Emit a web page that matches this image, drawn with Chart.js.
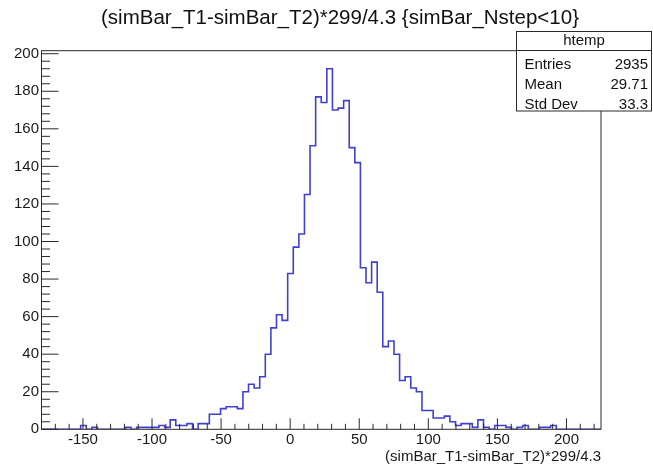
<!DOCTYPE html>
<html>
<head>
<meta charset="utf-8">
<script src="https://cdn.jsdelivr.net/npm/chart.js@4.4.0/dist/chart.umd.min.js"></script>
<style>
  html, body { margin: 0; padding: 0; background: #fff; }
</style>
</head>
<body>
<canvas id="htemp" width="653" height="464"></canvas>
<script>
// Histograma htemp: diferencia de tiempos con corte en Nstep
const tituloHist = "(simBar_T1-simBar_T2)*299/4.3 {simBar_Nstep<10}";
const tituloEjeX = "(simBar_T1-simBar_T2)*299/4.3";

// rango y numero de bins (100 bins)
const xMin = -180;
const xMax = 225;

const cuentas = [
  0, 0, 0, 0, 0, 0, 0, 2, 0, 1,
  0, 0, 0, 0, 0, 1, 0, 1, 1, 1,
  1, 2, 1, 5, 2, 2, 3, 0, 3, 3,
  8, 8, 11, 12, 12, 11, 20, 24, 22, 28,
  40, 54, 61, 58, 83, 97, 104, 125, 151, 177,
  174, 192, 170, 171, 175, 150, 142, 86, 78, 89,
  73, 44, 47, 40, 26, 28, 22, 20, 10, 10,
  6, 6, 7, 4, 2, 3, 3, 1, 5, 1,
  0, 2, 2, 1, 0, 1, 2, 0, 0, 1,
  1, 2, 0, 0, 0, 0, 0, 0, 0, 0,
];

const ticksX = [-150, -100, -50, 0, 50, 100, 150, 200];
const ticksY = [0, 20, 40, 60, 80, 100, 120, 140, 160, 180, 200];

const estadisticas = [
  ["Entries", "2935"],
  ["Mean", "29.71"],
  ["Std Dev", "33.3"],
];

const fuente = "'Liberation Sans', Arial, sans-serif";
const anchoBin = (xMax - xMin) / cuentas.length;

// puntos del escalon: borde izquierdo de cada bin
const puntos = [{ x: xMin, y: 0 }];
cuentas.forEach((c, i) => puntos.push({ x: xMin + i * anchoBin, y: c }));
puntos.push({ x: xMax, y: cuentas[cuentas.length - 1] });
puntos.push({ x: xMax, y: 0 });

/* marco, marcas hacia adentro, titulo y caja de estadisticas */
const estiloRoot = {
  id: "estiloRoot",
  afterDatasetsDraw(chart) {
    const { ctx, chartArea: a } = chart;
    const sx = chart.scales.x;
    const sy = chart.scales.y;
    ctx.save();
    ctx.strokeStyle = "#2a2a2a";
    ctx.lineWidth = 1;
    ctx.strokeRect(a.left, a.top, a.right - a.left, a.bottom - a.top);
    ctx.beginPath();
    for (let v = Math.ceil(xMin / 10) * 10; v < xMax; v += 10) {
      if (v <= xMin) continue;
      const px = sx.getPixelForValue(v);
      const largo = v % 50 === 0 ? 11 : 5.5;
      ctx.moveTo(px, a.bottom);
      ctx.lineTo(px, a.bottom - largo);
    }
    for (let v = 0; v <= sy.max; v += 4) {
      const py = sy.getPixelForValue(v);
      const largo = v % 20 === 0 ? 17 : 8.5;
      ctx.moveTo(a.left, py);
      ctx.lineTo(a.left + largo, py);
    }
    ctx.stroke();
    ctx.restore();
  },
  afterDraw(chart) {
    const { ctx } = chart;
    ctx.save();
    ctx.fillStyle = "#111";
    ctx.font = `20.5px ${fuente}`;
    ctx.textAlign = "center";
    ctx.textBaseline = "middle";
    ctx.fillText(tituloHist, 340, 18);

    // caja de estadisticas
    const bx = 516.5, by = 31.5, bw = 135, bh = 79.5;
    ctx.fillStyle = "#fff";
    ctx.fillRect(bx, by, bw, bh);
    ctx.strokeStyle = "#2a2a2a";
    ctx.lineWidth = 1;
    ctx.strokeRect(bx, by, bw, bh);
    ctx.beginPath();
    ctx.moveTo(bx, 50.5);
    ctx.lineTo(bx + bw, 50.5);
    ctx.stroke();

    ctx.fillStyle = "#111";
    ctx.font = `15px ${fuente}`;
    ctx.fillText("htemp", bx + bw / 2, 41);
    estadisticas.forEach(([nombre, valor], i) => {
      const y = 64.5 + i * 20;
      ctx.textAlign = "left";
      ctx.fillText(nombre, bx + 8, y);
      ctx.textAlign = "right";
      ctx.fillText(valor, bx + bw - 3.5, y);
    });
    ctx.restore();
  },
};

new Chart(document.getElementById("htemp"), {
  type: "line",
  data: {
    datasets: [
      {
        data: puntos,
        stepped: "before",
        borderColor: "#4040d0",
        borderWidth: 1.6,
        pointRadius: 0,
        fill: false,
      },
    ],
  },
  plugins: [estiloRoot],
  options: {
    responsive: false,
    animation: false,
    devicePixelRatio: 1,
    layout: { padding: { top: 50.7, right: 52, left: 0, bottom: 0 } },
    plugins: {
      legend: { display: false },
      tooltip: { enabled: false },
    },
    scales: {
      x: {
        type: "linear",
        min: xMin,
        max: xMax,
        afterBuildTicks: (s) => {
          s.ticks = ticksX.map((v) => ({ value: v }));
        },
        afterFit: (s) => {
          s.height = 34.7;
        },
        grid: { display: false, drawTicks: false },
        border: { display: false },
        ticks: {
          autoSkip: false,
          maxRotation: 0,
          padding: 2,
          color: "#1a1a1a",
          font: { family: fuente, size: 15 },
        },
        title: {
          display: true,
          text: tituloEjeX,
          align: "end",
          color: "#1a1a1a",
          font: { family: fuente, size: 15, lineHeight: 1 },
          padding: { top: 0, bottom: 0 },
        },
      },
      y: {
        min: 0,
        max: Math.max(...cuentas) * 1.05,
        afterBuildTicks: (s) => {
          s.ticks = ticksY.map((v) => ({ value: v }));
        },
        afterFit: (s) => {
          s.width = 41.5;
        },
        grid: { display: false, drawTicks: false },
        border: { display: false },
        ticks: {
          padding: 2.5,
          color: "#1a1a1a",
          font: { family: fuente, size: 15 },
        },
      },
    },
  },
});
</script>
</body>
</html>
